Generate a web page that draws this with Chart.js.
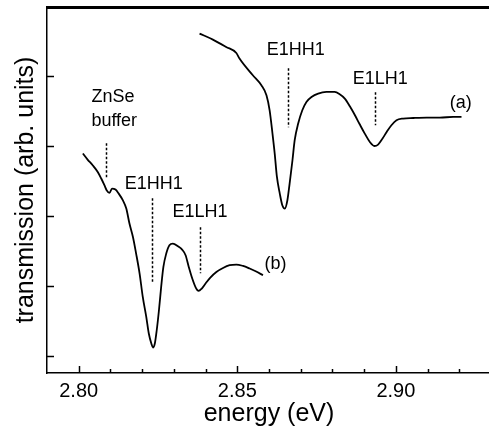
<!DOCTYPE html>
<html>
<head>
<meta charset="utf-8">
<script src="https://cdn.jsdelivr.net/npm/chart.js"></script>
<style>
html, body { margin: 0; padding: 0; background: #fff; overflow: hidden; }
#wrap { width: 493px; height: 428px; }
canvas { display: block; }
</style>
</head>
<body>
<div id="wrap"><canvas id="chart" width="493" height="428"></canvas></div>
<script>
// spectrum (a)
const energyA = [2.8381, 2.8423, 2.8465, 2.8497, 2.8507, 2.8549, 2.8576, 2.8592, 2.8602, 2.8611,
  2.8618, 2.8625, 2.8634, 2.8642, 2.8650, 2.8658, 2.8665, 2.8674, 2.8681, 2.8692,
  2.8705, 2.8718, 2.8734, 2.8755, 2.8781, 2.8807, 2.8823, 2.8839, 2.8855, 2.8871,
  2.8886, 2.8902, 2.8918, 2.8932, 2.8944, 2.8958, 2.8971, 2.8986, 2.9002, 2.9023,
  2.9055, 2.9097, 2.9139, 2.9181, 2.9207];
const transA = [4.610, 4.524, 4.419, 4.333, 4.253, 4.014, 3.871, 3.729, 3.514, 3.181,
  2.896, 2.561, 2.324, 2.157, 2.110, 2.229, 2.467, 2.800, 3.086, 3.324,
  3.514, 3.633, 3.704, 3.753, 3.776, 3.776, 3.743, 3.681, 3.571, 3.443,
  3.314, 3.181, 3.061, 3.004, 3.024, 3.110, 3.204, 3.300, 3.371, 3.396,
  3.404, 3.410, 3.410, 3.419, 3.419];

// spectrum (b)
const energyB = [2.8013, 2.8028, 2.8044, 2.8060, 2.8071, 2.8081, 2.8088, 2.8097, 2.8105, 2.8116,
  2.8126, 2.8139, 2.8150, 2.8160, 2.8171, 2.8181, 2.8192, 2.8202, 2.8213, 2.8221,
  2.8229, 2.8234, 2.8240, 2.8246, 2.8253, 2.8260, 2.8267, 2.8276, 2.8286, 2.8297,
  2.8313, 2.8326, 2.8337, 2.8347, 2.8358, 2.8369, 2.8378, 2.8388, 2.8400, 2.8415,
  2.8434, 2.8455, 2.8476, 2.8497, 2.8518, 2.8539, 2.8558, 2.8581];
const transB = [2.896, 2.810, 2.729, 2.633, 2.539, 2.443, 2.371, 2.333, 2.396, 2.381,
  2.324, 2.229, 2.110, 1.896, 1.704, 1.467, 1.181, 0.847, 0.561, 0.324,
  0.181, 0.124, 0.181, 0.371, 0.657, 0.990, 1.276, 1.467, 1.586, 1.610,
  1.571, 1.524, 1.443, 1.276, 1.110, 0.981, 0.933, 0.967, 1.039, 1.124,
  1.204, 1.261, 1.300, 1.310, 1.290, 1.253, 1.214, 1.157];

const xTickLabels = [2.80, 2.85, 2.90];
const yTicks = [0, 1, 2, 3, 4];

// dashed transition markers
const markerEnergy = [2.8087, 2.8230, 2.8384, 2.8659, 2.8934];
const markerTop = [3.043, 2.257, 1.843, 4.114, 3.771];
const markerBottom = [2.557, 1.043, 1.186, 3.271, 3.300];

// text labels in the plot
const labelText = ['ZnSe', 'buffer', 'E1HH1', 'E1LH1', 'E1HH1', 'E1LH1', '(a)', '(b)'];
const labelX = [2.8040, 2.8040, 2.8145, 2.8296, 2.8593, 2.8864, 2.9170, 2.8586];
const labelY = [3.629, 3.286, 2.386, 1.986, 4.300, 3.886, 3.543, 1.243];

const FONT = '"Liberation Sans", Arial, Helvetica, sans-serif';

function toPoints(xs, ys) {
  return xs.map((v, i) => ({ x: v, y: ys[i] }));
}

const decorations = {
  id: 'decorations',
  afterDraw(chart) {
    const { ctx, chartArea: a, scales: { x, y } } = chart;
    ctx.save();
    ctx.setLineDash([]);
    ctx.strokeStyle = '#000';
    ctx.fillStyle = '#000';

    // top frame line
    ctx.fillRect(a.left - 1, a.top - 1, a.right - a.left + 2, 3);

    ctx.lineWidth = 1.5;
    // inward ticks on x, minor every 0.01
    for (let i = 280; i <= 293; i++) {
      const px = Math.round(x.getPixelForValue(i / 100)) + 0.5;
      const len = i % 5 === 0 ? 7 : 4;
      ctx.beginPath();
      ctx.moveTo(px, a.bottom);
      ctx.lineTo(px, a.bottom - len);
      ctx.stroke();
    }
    // inward ticks on y
    yTicks.forEach(v => {
      const py = Math.round(y.getPixelForValue(v)) + 0.5;
      ctx.beginPath();
      ctx.moveTo(a.left, py);
      ctx.lineTo(a.left + 7, py);
      ctx.stroke();
    });

    // dashed markers
    ctx.setLineDash([2.5, 2]);
    markerEnergy.forEach((e, i) => {
      const px = Math.round(x.getPixelForValue(e)) + 0.5;
      ctx.beginPath();
      ctx.moveTo(px, y.getPixelForValue(markerTop[i]));
      ctx.lineTo(px, y.getPixelForValue(markerBottom[i]));
      ctx.stroke();
    });
    ctx.setLineDash([]);

    // labels
    ctx.font = '18px ' + FONT;
    ctx.textAlign = 'left';
    ctx.textBaseline = 'alphabetic';
    labelText.forEach((t, i) => {
      ctx.fillText(t, x.getPixelForValue(labelX[i]), y.getPixelForValue(labelY[i]));
    });
    ctx.restore();
  }
};

new Chart(document.getElementById('chart'), {
  type: 'line',
  data: {
    datasets: [
      { label: '(a)', data: toPoints(energyA, transA) },
      { label: '(b)', data: toPoints(energyB, transB) }
    ]
  },
  options: {
    responsive: false,
    devicePixelRatio: 1,
    animation: false,
    layout: { padding: { top: 7, right: 2, left: 0, bottom: 0 } },
    elements: {
      line: { borderColor: '#000', borderWidth: 1.8, cubicInterpolationMode: 'monotone', fill: false },
      point: { radius: 0 }
    },
    plugins: { legend: { display: false }, tooltip: { enabled: false } },
    scales: {
      x: {
        type: 'linear',
        min: 2.79,
        max: 2.93,
        afterBuildTicks(s) { s.ticks = xTickLabels.map(v => ({ value: v })); },
        afterFit(s) { s.height = 55; },
        grid: { display: false, drawTicks: false },
        border: { color: '#000', width: 1.5 },
        ticks: {
          color: '#000',
          font: { size: 20, family: FONT },
          padding: 6,
          maxRotation: 0,
          autoSkip: false,
          callback: v => v.toFixed(2)
        },
        title: {
          display: true,
          text: 'energy (eV)',
          color: '#000',
          font: { size: 25, family: FONT },
          padding: { top: 0, bottom: -1 }
        }
      },
      y: {
        min: -0.24,
        max: 4.99,
        afterFit(s) { s.width = 47; },
        grid: { display: false, drawTicks: false },
        border: { color: '#000', width: 1.5 },
        ticks: { display: false },
        title: {
          display: true,
          text: 'transmission (arb. units)',
          color: '#000',
          font: { size: 25, family: FONT },
          padding: { top: 11, bottom: 0 }
        }
      }
    }
  },
  plugins: [decorations]
});
</script>
</body>
</html>
